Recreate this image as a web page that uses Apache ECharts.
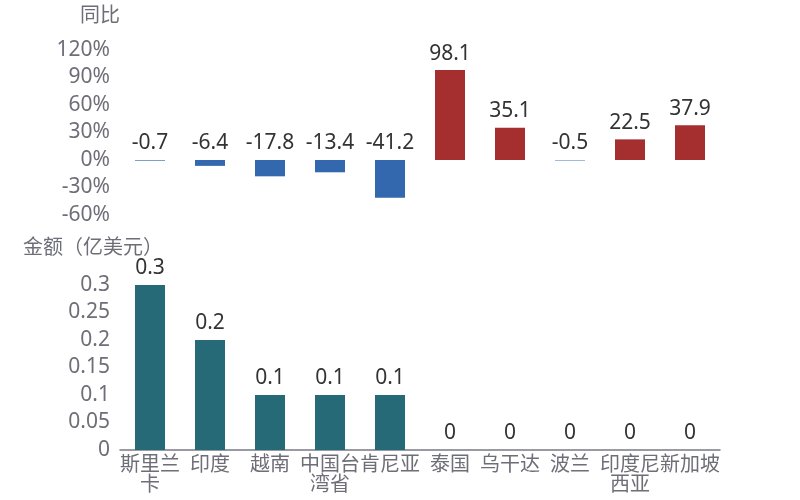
<!DOCTYPE html>
<html>
<head>
<meta charset="utf-8">
<script src="https://cdn.jsdelivr.net/npm/echarts@6/dist/echarts.min.js"></script>
<style>html,body{margin:0;padding:0;background:#fff}#c{width:800px;height:500px}</style>
</head>
<body>
<div id="c"></div>
<script>
const categories = ['斯里兰卡', '印度', '越南', '中国台湾省', '肯尼亚', '泰国', '乌干达', '波兰', '印度尼西亚', '新加坡'];
const yoyValues = [-0.7, -6.4, -17.8, -13.4, -41.2, 98.1, 35.1, -0.5, 22.5, 37.9];
const amountValues = [0.3, 0.2, 0.1, 0.1, 0.1, 0, 0, 0, 0, 0];
const yoyTicks = { min: -60, max: 120, interval: 30 };
const amountTicks = { min: 0, max: 0.3, interval: 0.05 };

const FONT = '"Noto Sans", "Noto Sans CJK SC", sans-serif';
const axisGrey = '#6e6e78';
const labelDark = '#333333';

const chart = echarts.init(document.getElementById('c'), null, { renderer: 'canvas' });
chart.setOption({
  animation: false,
  textStyle: { fontFamily: FONT },
  grid: [
    { left: 120, right: 80, top: 50, height: 165 },
    { left: 120, right: 80, top: 285, bottom: 50 }
  ],
  xAxis: [
    { type: 'category', gridIndex: 0, data: categories, show: false },
    {
      type: 'category', gridIndex: 1, data: categories,
      axisLine: { lineStyle: { color: '#7a7a85', width: 1.5 } },
      axisTick: { alignWithLabel: true, length: 5, lineStyle: { color: '#7a7a85' } },
      axisLabel: {
        color: axisGrey, fontSize: 20, fontFamily: FONT, margin: 5, interval: 0,
        width: 62, overflow: 'break', lineHeight: 20
      }
    }
  ],
  yAxis: [
    {
      type: 'value', gridIndex: 0, min: yoyTicks.min, max: yoyTicks.max, interval: yoyTicks.interval,
      name: '同比', nameGap: 24,
      nameTextStyle: { color: axisGrey, fontSize: 20, fontFamily: FONT, align: 'center', padding: [0, 40, 0, 0] },
      axisLine: { show: false }, axisTick: { show: false }, splitLine: { show: false },
      axisLabel: { color: axisGrey, fontSize: 21, fontFamily: FONT, margin: 10, formatter: '{value}%' }
    },
    {
      type: 'value', gridIndex: 1, min: amountTicks.min, max: amountTicks.max, interval: amountTicks.interval,
      name: '金额（亿美元）', nameGap: 27,
      nameTextStyle: { color: axisGrey, fontSize: 20, fontFamily: FONT, align: 'center', padding: [0, 54, 0, 0] },
      axisLine: { show: false }, axisTick: { show: false }, splitLine: { show: false },
      axisLabel: { color: axisGrey, fontSize: 21, fontFamily: FONT, margin: 10 }
    }
  ],
  series: [
    {
      type: 'bar', xAxisIndex: 0, yAxisIndex: 0, barWidth: '50%',
      data: yoyValues.map(v => ({ value: v, itemStyle: { color: v < 0 ? '#3468ae' : '#a52e2e' } })),
      label: { show: true, position: 'top', color: labelDark, fontSize: 21, fontFamily: FONT, distance: 6 }
    },
    {
      type: 'bar', xAxisIndex: 1, yAxisIndex: 1, barWidth: '50%',
      data: amountValues,
      itemStyle: { color: '#266a78' },
      label: { show: true, position: 'top', color: labelDark, fontSize: 21, fontFamily: FONT, distance: 6 }
    }
  ]
});
</script>
</body>
</html>
